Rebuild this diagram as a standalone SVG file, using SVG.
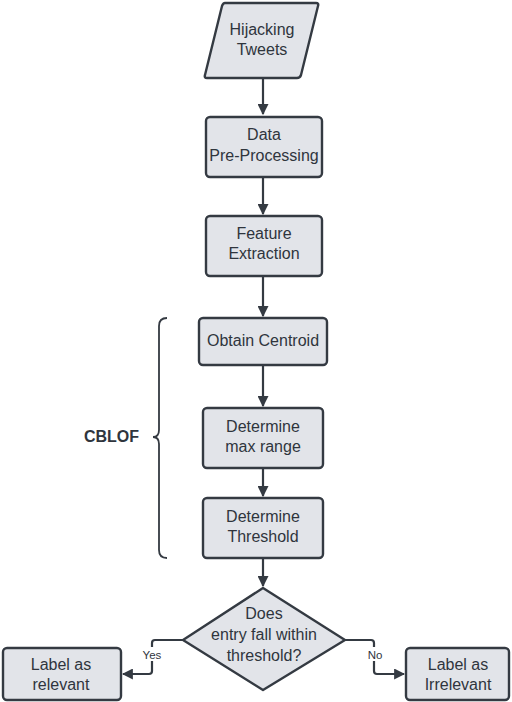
<svg xmlns="http://www.w3.org/2000/svg" width="512" height="702" viewBox="0 0 512 702">
<defs>
<style>
.n{fill:#e2e4e9;stroke:#343a42;stroke-width:2.4}
.t{font-family:"Liberation Sans",Arial,sans-serif;font-size:16px;fill:#2f353d;text-anchor:middle}
.c{fill:none;stroke:#343a42;stroke-width:2.2}
.l{font-family:"Liberation Sans",Arial,sans-serif;font-size:11.5px;fill:#2f353d;text-anchor:middle}
</style>
<marker id="ah" viewBox="0 0 10 10" refX="9" refY="5" markerWidth="5" markerHeight="5" orient="auto" markerUnits="strokeWidth">
<path d="M0,0 L10,5 L0,10 z" fill="#343a42"/>
</marker>
</defs>
<rect width="512" height="702" fill="#ffffff"/>
<g id="connectors">
<path class="c" d="M263,78 V114" marker-end="url(#ah)"/>
<path class="c" d="M263,177 V214" marker-end="url(#ah)"/>
<path class="c" d="M263,276 V316" marker-end="url(#ah)"/>
<path class="c" d="M263,365 V406" marker-end="url(#ah)"/>
<path class="c" d="M263,468 V496" marker-end="url(#ah)"/>
<path class="c" d="M263,558 V586" marker-end="url(#ah)"/>
<path class="c" d="M183,640 H155 Q152,640 152,643 V671 Q152,674 149,674 H123" marker-end="url(#ah)"/>
<path class="c" d="M345,640 H371 Q374,640 374,643 V671 Q374,674 377,674 H404" marker-end="url(#ah)"/>
<rect x="139" y="647" width="26" height="14" fill="#ffffff"/>
<text class="l" x="152" y="659">Yes</text>
<rect x="365" y="647" width="20" height="14" fill="#ffffff"/>
<text class="l" x="375" y="659">No</text>
</g>
<g id="hijacking-tweets">
<path class="n" d="M225,3 H316 Q319,3 318,6 L301,75 Q300,78 297,78 H207 Q204,78 205,75 L222,6 Q223,3 225,3 Z"/>
<text class="t" x="262" y="35">Hijacking</text>
<text class="t" x="262" y="55">Tweets</text>
</g>
<g id="data-preprocessing">
<rect class="n" x="206" y="117" width="116" height="60" rx="4"/>
<text class="t" x="264" y="140">Data</text>
<text class="t" x="264" y="161">Pre-Processing</text>
</g>
<g id="feature-extraction">
<rect class="n" x="206" y="216" width="116" height="60" rx="4"/>
<text class="t" x="264" y="239">Feature</text>
<text class="t" x="264" y="259">Extraction</text>
</g>
<g id="obtain-centroid">
<rect class="n" x="199" y="318" width="128" height="47" rx="4"/>
<text class="t" x="263" y="346">Obtain Centroid</text>
</g>
<g id="determine-max-range">
<rect class="n" x="203" y="408" width="120" height="60" rx="4"/>
<text class="t" x="263" y="432">Determine</text>
<text class="t" x="263" y="452">max range</text>
</g>
<g id="determine-threshold">
<rect class="n" x="203" y="498" width="120" height="60" rx="4"/>
<text class="t" x="263" y="522">Determine</text>
<text class="t" x="263" y="542">Threshold</text>
</g>
<g id="cblof">
<path fill="none" stroke="#343a42" stroke-width="1.8" d="M167,318 Q159,318 159,326 V430 Q159,437 153,437 Q159,437 159,444 V550 Q159,558 167,558"/>
<text x="111.5" y="442" font-family="'Liberation Sans',Arial,sans-serif" font-size="16px" font-weight="bold" fill="#2f353d" text-anchor="middle">CBLOF</text>
</g>
<g id="decision">
<path class="n" d="M263,588 L345,640 L263,690 L183,640 Z" stroke-linejoin="round"/>
<text class="t" x="264" y="619">Does</text>
<text class="t" x="264" y="640">entry fall within</text>
<text class="t" x="264" y="661">threshold?</text>
</g>
<g id="label-relevant">
<rect class="n" x="3" y="648" width="118" height="52" rx="4"/>
<text class="t" x="61" y="670">Label as</text>
<text class="t" x="61" y="690">relevant</text>
</g>
<g id="label-irrelevant">
<rect class="n" x="406" y="648" width="103" height="52" rx="4"/>
<text class="t" x="458" y="670">Label as</text>
<text class="t" x="458" y="690">Irrelevant</text>
</g>
</svg>
